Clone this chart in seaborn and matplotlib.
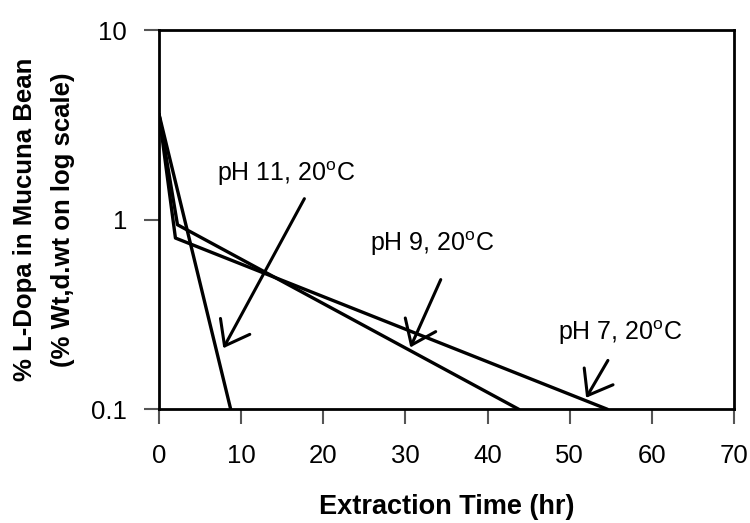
import matplotlib
matplotlib.use("Agg")
import matplotlib.pyplot as plt
import seaborn as sns
import pandas as pd

# ---- data ----
series_names = ["pH 11", "pH 9", "pH 7"]
ph11_time = [0.0, 8.73]
ph11_val = [3.6, 0.1]
ph9_time = [0.0, 2.25, 43.8]
ph9_val = [3.6, 0.94, 0.1]
ph7_time = [0.0, 2.0, 54.6]
ph7_val = [3.6, 0.80, 0.1]

x_ticks = [0, 10, 20, 30, 40, 50, 60, 70]
y_ticks = [0.1, 1, 10]
y_ticklabels = ["0.1", "1", "10"]

labels = ["pH 11, 20$^{\\mathrm{o}}$C", "pH 9, 20$^{\\mathrm{o}}$C", "pH 7, 20$^{\\mathrm{o}}$C"]
label_pos = [(7.06, 1.60), (25.7, 0.681), (48.6, 0.232)]
arrow_start = [(17.7, 1.29), (34.3, 0.483), (54.65, 0.181)]
arrow_tip = [(7.83, 0.21), (30.6, 0.212), (52.0, 0.115)]

# ---- build long table ----
rows = []
for name, xs, ys in zip(series_names, [ph11_time, ph9_time, ph7_time],
                        [ph11_val, ph9_val, ph7_val]):
    for i, (xv, yv) in enumerate(zip(xs, ys)):
        rows.append({"series": name, "time": xv, "val": yv, "order": i})
df = pd.DataFrame(rows)

sns.set_theme(style="ticks")
plt.rcParams["font.family"] = ["Liberation Sans", "DejaVu Sans"]
plt.rcParams["mathtext.fontset"] = "custom"
plt.rcParams["mathtext.rm"] = "Liberation Sans"
plt.rcParams["mathtext.it"] = "Liberation Sans:italic"
plt.rcParams["mathtext.bf"] = "Liberation Sans:bold"

fig = plt.figure(figsize=(7.5, 5.23), dpi=100)
ax = fig.add_axes([159/750, 1 - 409.3/523, (734-159)/750, (409.3-30)/523])

sns.lineplot(data=df, x="time", y="val", hue="series", units="series",
             estimator=None, sort=False, palette=["black"]*3, linewidth=2.4,
             legend=False, ax=ax)

ax.set_yscale("log")
ax.set_xlim(0, 70)
ax.set_ylim(0.1, 10)
ax.set_xticks(x_ticks)
ax.set_xticklabels([str(t) for t in x_ticks])
ax.set_yticks(y_ticks)
ax.set_yticklabels(y_ticklabels)
ax.yaxis.set_minor_locator(matplotlib.ticker.NullLocator())

for s in ax.spines.values():
    s.set_visible(True)
    s.set_linewidth(2)
    s.set_color("black")

ax.tick_params(axis="both", which="major", direction="out", length=11,
               width=1.5, color="#555555", labelsize=18.5, labelcolor="black")
ax.tick_params(axis="x", pad=14)
ax.tick_params(axis="y", pad=12)

ax.set_xlabel("Extraction Time (hr)", fontsize=19.5, fontweight="bold",
              labelpad=19, color="black")
ax.set_ylabel("% L-Dopa in Mucuna Bean\n(% Wt,d.wt on log scale)", fontsize=18.5,
              fontweight="bold", labelpad=12, linespacing=1.7, color="black")

for txt, pos, st, tip in zip(labels, label_pos, arrow_start, arrow_tip):
    ax.text(pos[0], pos[1], txt, fontsize=18, ha="left", va="baseline", color="black")
    ax.annotate("", xy=tip, xytext=st,
                arrowprops=dict(arrowstyle="->,head_length=0.8,head_width=0.6",
                                lw=2.2, color="black", mutation_scale=20,
                                shrinkA=0, shrinkB=0))

fig.savefig("out.png", dpi=100)
